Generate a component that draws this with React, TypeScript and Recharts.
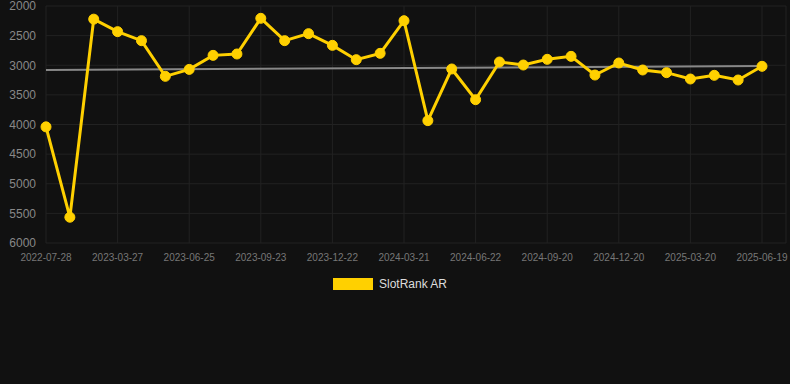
import React from 'react';
import { LineChart, Line, XAxis, YAxis, CartesianGrid, Legend, ReferenceLine } from 'recharts';

const dates = [
  '2022-07-28', '2022-10-26', '2023-01-25', '2023-03-27', '2023-04-26', '2023-05-26',
  '2023-06-25', '2023-07-25', '2023-08-24', '2023-09-23', '2023-10-23', '2023-11-22',
  '2023-12-22', '2024-01-21', '2024-02-20', '2024-03-21', '2024-04-22', '2024-05-22',
  '2024-06-22', '2024-07-22', '2024-08-21', '2024-09-20', '2024-10-20', '2024-11-19',
  '2024-12-20', '2025-01-19', '2025-02-18', '2025-03-20', '2025-04-19', '2025-05-20',
  '2025-06-19',
];

const rankValues = [
  4040, 5565, 2222, 2433, 2585, 3187, 3070, 2833, 2810, 2208, 2585, 2467,
  2664, 2906, 2799, 2248, 3935, 3063, 3581, 2945, 2996, 2900, 2850, 3165,
  2962, 3080, 3125, 3232, 3170, 3249, 3018,
];

const yTicks = [2000, 2500, 3000, 3500, 4000, 4500, 5000, 5500, 6000];

const trendStart = 3080;
const trendEnd = 3013;

const data = dates.map((d, i) => ({ date: d, rank: rankValues[i] }));

const LegendContent = () => (
  <div style={{ position: 'relative', width: 790, height: 20 }}>
    <div style={{ position: 'absolute', left: 333, top: 2, width: 40, height: 12, background: '#FFD000' }} />
    <span
      style={{
        position: 'absolute',
        left: 379,
        top: 0,
        fontFamily: 'Liberation Sans, Arial, sans-serif',
        fontSize: 12,
        lineHeight: '16px',
        color: '#dddddd',
      }}
    >
      SlotRank AR
    </span>
  </div>
);

export default function App() {
  return (
    <div style={{ position: 'absolute', left: 0, top: 0, width: 790, height: 384, background: '#111111' }}>
      <LineChart
        width={790}
        height={384}
        data={data}
        margin={{ top: 6, right: 4, left: 0, bottom: 111 }}
        style={{ fontFamily: 'Liberation Sans, Arial, sans-serif' }}
      >
        <CartesianGrid stroke="#222222" strokeWidth={1} />
        <XAxis
          dataKey="date"
          interval={2}
          height={30}
          tickSize={0}
          tickMargin={11}
          axisLine={false}
          tickLine={false}
          padding={{ left: 0, right: 24 }}
          tick={{ fill: '#777777', fontSize: 10 }}
        />
        <YAxis
          domain={[2000, 6000]}
          ticks={yTicks}
          reversed
          width={46}
          tickSize={0}
          tickMargin={10}
          axisLine={false}
          tickLine={false}
          interval={0}
          tick={{ fill: '#888888', fontSize: 12 }}
        />
        <ReferenceLine
          segment={[
            { x: dates[0], y: trendStart },
            { x: dates[dates.length - 1], y: trendEnd },
          ]}
          stroke="#888888"
          strokeWidth={2}
        />
        <Line
          type="linear"
          dataKey="rank"
          name="SlotRank AR"
          stroke="#FFD000"
          strokeWidth={3}
          dot={{ r: 5, fill: '#FFD000', stroke: '#FFD000', strokeWidth: 1 }}
          activeDot={false}
          isAnimationActive={false}
        />
        <Legend
          verticalAlign="middle"
          align="center"
          layout="horizontal"
          wrapperStyle={{ top: 276, left: 0, width: 790 }}
          content={<LegendContent />}
        />
      </LineChart>
    </div>
  );
}
